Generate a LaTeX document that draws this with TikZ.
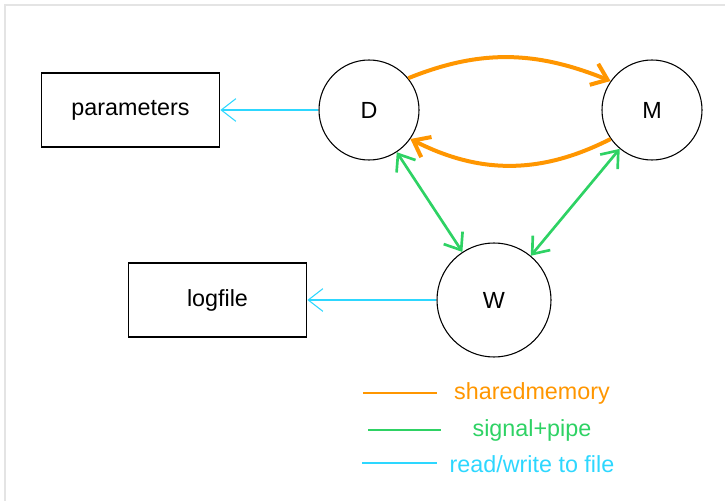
\documentclass[tikz,border=0pt]{standalone}
\usepackage{fontspec}
\setmainfont{Liberation Sans}
\usetikzlibrary{arrows.meta}
\definecolor{shmorange}{RGB}{255,150,0}
\definecolor{siggreen}{RGB}{46,210,100}
\definecolor{filecyan}{RGB}{45,215,255}
\definecolor{frame}{RGB}{228,228,228}
\begin{document}
\begin{tikzpicture}[x=0.75pt,y=0.75pt,thick,
    font=\fontsize{17.5}{20}\selectfont,
    tip/.style={-{Straight Barb[length=11pt,width=17pt]}},
    both/.style={{Straight Barb[length=11pt,width=17pt]}-{Straight Barb[length=11pt,width=17pt]}}]
  \useasboundingbox (0,0) rectangle (725,501);
  \draw[frame,line width=1pt] (5,0) -- (5,496) -- (725,496);

  \begin{scope}[every node/.style={circle,draw,fill=white,minimum size=75pt}]
    \node (D) at (369,391) {D};
    \node (M) at (652,391) {M};
    \node[minimum size=85.5pt] (W) at (494,201) {W};
  \end{scope}
  \begin{scope}[every node/.style={rectangle,draw,minimum width=134pt,minimum height=55.5pt}]
    \node (par) at (130.5,391) {parameters};
    \node (log) at (217.5,201) {logfile};
  \end{scope}

  \draw[filecyan,tip] (D) -- (par);
  \draw[filecyan,tip] (W) -- (log);
  \draw[shmorange,line width=3pt,tip] (D.39) to[out=22,in=158] (M.145);
  \draw[shmorange,line width=3pt,tip] (M.215) to[out=207,in=-27] (D.-35);
  \draw[siggreen,line width=2pt,both] (D) -- (W);
  \draw[siggreen,line width=2pt,both] (M) -- (W);

  % legend
  \coordinate (l1a) at (363,108); \coordinate (l1b) at (437,108);
  \coordinate (l2a) at (368,71);  \coordinate (l2b) at (441,71);
  \coordinate (l3a) at (362,38);  \coordinate (l3b) at (437,38);
  \draw[shmorange] (l1a) -- (l1b);
  \draw[siggreen] (l2a) -- (l2b);
  \draw[filecyan] (l3a) -- (l3b);
  \node[shmorange] (t1) at (532,108) {sharedmemory};
  \node[siggreen] (t2) at (532,71) {signal+pipe};
  \node[filecyan] (t3) at (532,37) {read/write to file};
\end{tikzpicture}
\end{document}
